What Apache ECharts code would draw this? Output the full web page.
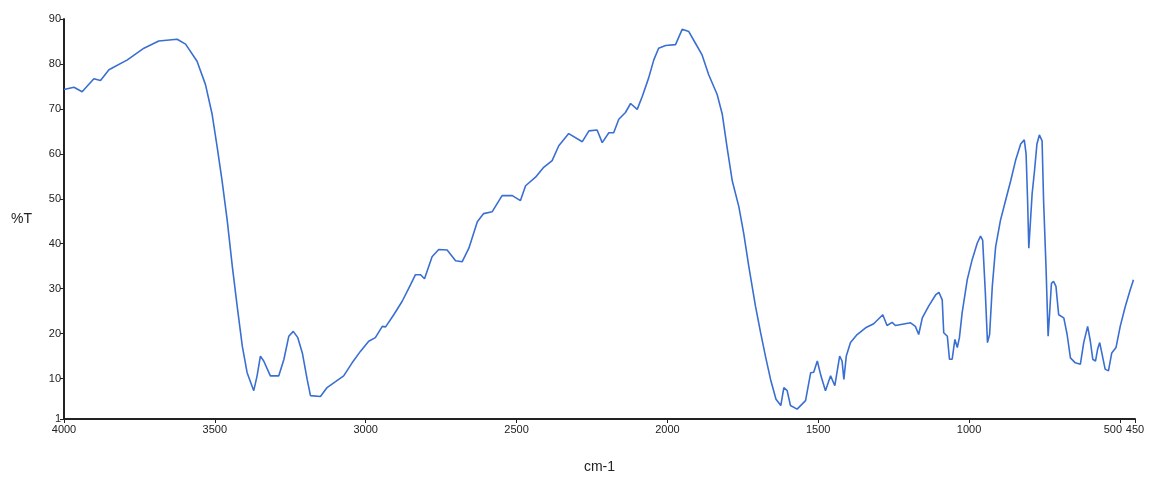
<!DOCTYPE html>
<html>
<head>
<meta charset="utf-8">
<title>IR spectrum</title>
<script src="https://cdn.jsdelivr.net/npm/echarts@6/dist/echarts.min.js"></script>
<style>
  html, body { margin: 0; padding: 0; background: #fff; }
  #chart { width: 1151px; height: 479px; }
</style>
</head>
<body>
<div id="chart"></div>
<script>
// Wavenumber (cm-1) and transmittance (%T) samples of the spectrum
const wavenumbers = [
  4000, 3967, 3940, 3901, 3879, 3851, 3790, 3735, 3686, 3625, 3597, 3559, 3531, 3509, 3492,
  3476, 3459, 3442, 3426, 3409, 3393, 3371, 3360, 3349, 3338, 3316, 3288, 3271, 3255, 3240,
  3225, 3210, 3194, 3183, 3150, 3128, 3100, 3073, 3045, 3017, 2990, 2968, 2945, 2934, 2907,
  2879, 2852, 2835, 2818, 2805, 2780, 2758, 2730, 2702, 2680, 2658, 2630, 2609, 2581, 2548,
  2514, 2487, 2470, 2437, 2410, 2382, 2360, 2327, 2282, 2260, 2233, 2216, 2194, 2178, 2161,
  2139, 2122, 2100, 2083, 2062, 2045, 2029, 2006, 1973, 1951, 1929, 1907, 1885, 1863, 1835,
  1818, 1802, 1785, 1763, 1747, 1730, 1708, 1691, 1675, 1658, 1640, 1624, 1614, 1603, 1592,
  1570, 1542, 1525, 1515, 1503, 1491, 1476, 1459, 1445, 1429, 1421, 1415, 1407, 1393, 1371,
  1343, 1316, 1286, 1272, 1255, 1244, 1194, 1178, 1167, 1155, 1134, 1111, 1100, 1089, 1084,
  1072, 1065, 1056, 1047, 1039, 1032, 1023, 1006, 990, 973, 962, 955, 946, 939, 932,
  923, 912, 896, 879, 862, 846, 829, 817, 811, 806, 802, 797, 791, 783, 775,
  767, 758, 753, 745, 738, 733, 727, 720, 712, 703, 686, 675, 664, 648, 631,
  620, 607, 598, 590, 581, 574, 567, 560, 549, 538, 527, 513, 499, 482, 466,
  455
];
const transmittance = [
  74.3, 74.8, 73.8, 76.7, 76.3, 78.7, 80.9, 83.5, 85.1, 85.5, 84.4, 80.6, 75.4, 68.8, 61.4,
  54.0, 45.2, 34.9, 26.1, 17.2, 11.3, 7.3, 10.6, 15.0, 13.9, 10.6, 10.6, 14.3, 19.4, 20.5,
  19.1, 15.7, 9.8, 6.2, 6.0, 8.0, 9.3, 10.6, 13.5, 16.1, 18.3, 19.1, 21.6, 21.5, 24.2,
  27.2, 30.8, 33.1, 33.1, 32.2, 37.1, 38.7, 38.6, 36.2, 36.0, 39.0, 44.9, 46.7, 47.1, 50.7,
  50.7, 49.6, 52.9, 54.8, 57.0, 58.5, 61.8, 64.5, 62.7, 65.1, 65.3, 62.5, 64.7, 64.7, 67.7,
  69.2, 71.2, 69.9, 72.8, 76.9, 80.9, 83.5, 84.1, 84.3, 87.7, 87.2, 84.6, 82.0, 77.6, 73.2,
  68.8, 61.4, 54.0, 48.2, 42.3, 34.9, 26.1, 20.2, 15.0, 9.8, 5.4, 4.0, 8.0, 7.3, 4.0,
  3.2, 5.1, 11.3, 11.4, 13.9, 10.6, 7.3, 10.6, 8.4, 15.0, 13.9, 9.8, 15.0, 18.0, 19.8,
  21.3, 22.2, 24.2, 21.8, 22.5, 21.8, 22.4, 21.6, 19.8, 23.5, 26.1, 28.6, 29.2, 27.5, 20.2,
  19.4, 14.3, 14.3, 18.7, 16.9, 19.1, 24.6, 32.0, 36.4, 40.1, 41.7, 40.8, 29.0, 18.0, 19.8,
  30.5, 39.3, 45.2, 49.6, 54.0, 58.5, 62.2, 63.1, 60.0, 49.6, 39.0, 44.5, 51.1, 56.3, 62.2,
  64.2, 62.9, 49.6, 34.9, 19.4, 24.6, 31.2, 31.6, 30.5, 24.2, 23.5, 19.8, 14.6, 13.5, 13.2,
  18.0, 21.6, 18.3, 14.3, 13.9, 16.5, 18.0, 15.7, 12.1, 11.7, 15.7, 16.9, 21.6, 26.1, 29.7,
  32.0
];

// Tick positions; the crowded 500 tick is drawn on its own overlay axis
const xTicks = [4000, 3500, 3000, 2500, 2000, 1500, 1000, 450];
const xTicksNear = [500];
const yTicks = [1, 10, 20, 30, 40, 50, 60, 70, 80, 90];

const points = wavenumbers.map((w, i) => [w, transmittance[i]]);

const chart = echarts.init(document.getElementById('chart'), null, { renderer: 'canvas' });

const FONT = 'Liberation Sans, Arial, sans-serif';
const INK = '#222';
const axisText = {
  color: INK,
  fontFamily: FONT,
  fontSize: 11,
  showMinLabel: true,
  showMaxLabel: true,
  hideOverlap: false,
  formatter: (v) => String(v)
};

chart.setOption({
  animation: false,
  backgroundColor: '#fff',
  grid: { left: 64, right: 16, top: 19, bottom: 55, containLabel: false },
  xAxis: [{
    type: 'value',
    inverse: true,
    min: 450,
    max: 4000,
    name: 'cm-1',
    nameLocation: 'middle',
    nameGap: 41,
    nameTextStyle: { color: INK, fontFamily: FONT, fontSize: 14 },
    axisLine: { show: true, onZero: false, lineStyle: { color: INK, width: 2 } },
    axisTick: { show: true, length: 4, customValues: xTicks, lineStyle: { color: INK, width: 1 } },
    axisLabel: { ...axisText, margin: 5, customValues: xTicks },
    splitLine: { show: false }
  }, {
    type: 'value',
    position: 'bottom',
    inverse: true,
    min: 450,
    max: 4000,
    axisLine: { show: false, onZero: false },
    axisTick: { show: true, length: 4, customValues: xTicksNear, lineStyle: { color: INK, width: 1 } },
    axisLabel: {
      ...axisText,
      margin: 5,
      customValues: xTicksNear,
      formatter: (v) => '{n|' + v + '}',
      rich: { n: { color: INK, fontFamily: FONT, fontSize: 11, padding: [0, 14, 0, 0] } }
    },
    splitLine: { show: false }
  }],
  yAxis: {
    type: 'value',
    min: 1,
    max: 90,
    name: '%T',
    nameLocation: 'middle',
    nameRotate: 0,
    nameGap: 32,
    nameTextStyle: { color: INK, fontFamily: FONT, fontSize: 14 },
    axisLine: { show: true, onZero: false, lineStyle: { color: INK, width: 2 } },
    axisTick: { show: true, length: 4, customValues: yTicks, lineStyle: { color: INK, width: 1 } },
    axisLabel: { ...axisText, margin: 3, customValues: yTicks },
    splitLine: { show: false }
  },
  series: [{
    type: 'line',
    xAxisIndex: 0,
    data: points,
    showSymbol: false,
    smooth: false,
    lineStyle: { color: '#3a6fd2', width: 1.6 },
    itemStyle: { color: '#3a6fd2' }
  }]
});
</script>
</body>
</html>
